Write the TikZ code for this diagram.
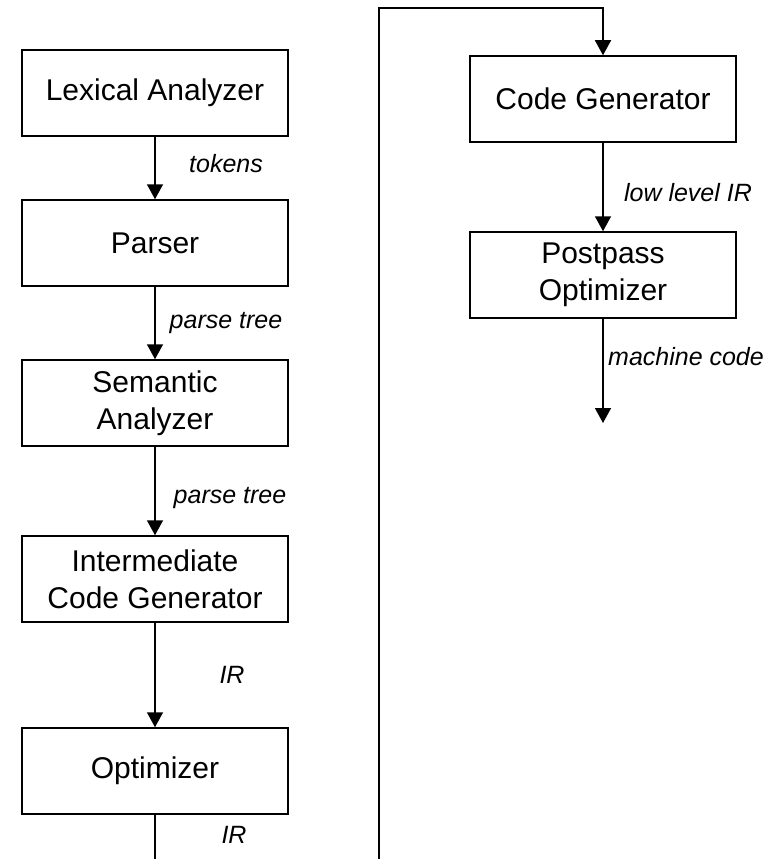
\documentclass[tikz,border=0pt]{standalone}
\usepackage{fontspec}
\setmainfont{Liberation Sans}
\usetikzlibrary{arrows.meta}
\begin{document}
\begin{tikzpicture}[x=1pt,y=-1pt,
  stage/.style={draw,line width=1.5pt,minimum width=266pt,minimum height=86pt,align=center,font=\fontsize{30}{37}\selectfont,inner sep=0pt},
  lbl/.style={font=\fontsize{25}{28}\selectfont\itshape},
  flow/.style={line width=1.5pt,-{Triangle[length=15pt,width=16pt]}},
  wire/.style={line width=1.5pt}]
\useasboundingbox (0,0) rectangle (778,859);
\node[stage] (lex) at (155,93) {Lexical Analyzer};
\node[stage] (par) at (155,243) {Parser};
\node[stage] (sem) at (155,403) {Semantic\\Analyzer};
\node[stage] (icg) at (155,579) {Intermediate\\Code Generator};
\node[stage] (opt) at (155,771) {Optimizer};
\node[stage] (cg) at (603,99) {Code Generator};
\node[stage] (pp) at (603,275) {Postpass\\Optimizer};
\coordinate (b1) at (155,859);
\coordinate (b2) at (379,859);
\coordinate (t1) at (379,8);
\coordinate (t2) at (603,8);
\coordinate (out) at (603,423);
\draw[flow] (lex) -- (par);
\draw[flow] (par) -- (sem);
\draw[flow] (sem) -- (icg);
\draw[flow] (icg) -- (opt);
\draw[wire] (opt) -- (b1);
\draw[flow] (b2) -- (t1) -- (t2) -- (cg);
\draw[flow] (cg) -- (pp);
\draw[flow] (pp) -- (out);
\node[lbl] (l1) at (226,164) {tokens};
\node[lbl] (l2) at (226,323) {parse tree};
\node[lbl] (l3) at (230,498) {parse tree};
\node[lbl] (l4) at (232,675) {IR};
\node[lbl] (l5) at (234,835) {IR};
\node[lbl] (l6) at (688,193) {low level IR};
\node[lbl] (l7) at (686,357) {machine code};
\end{tikzpicture}
\end{document}
